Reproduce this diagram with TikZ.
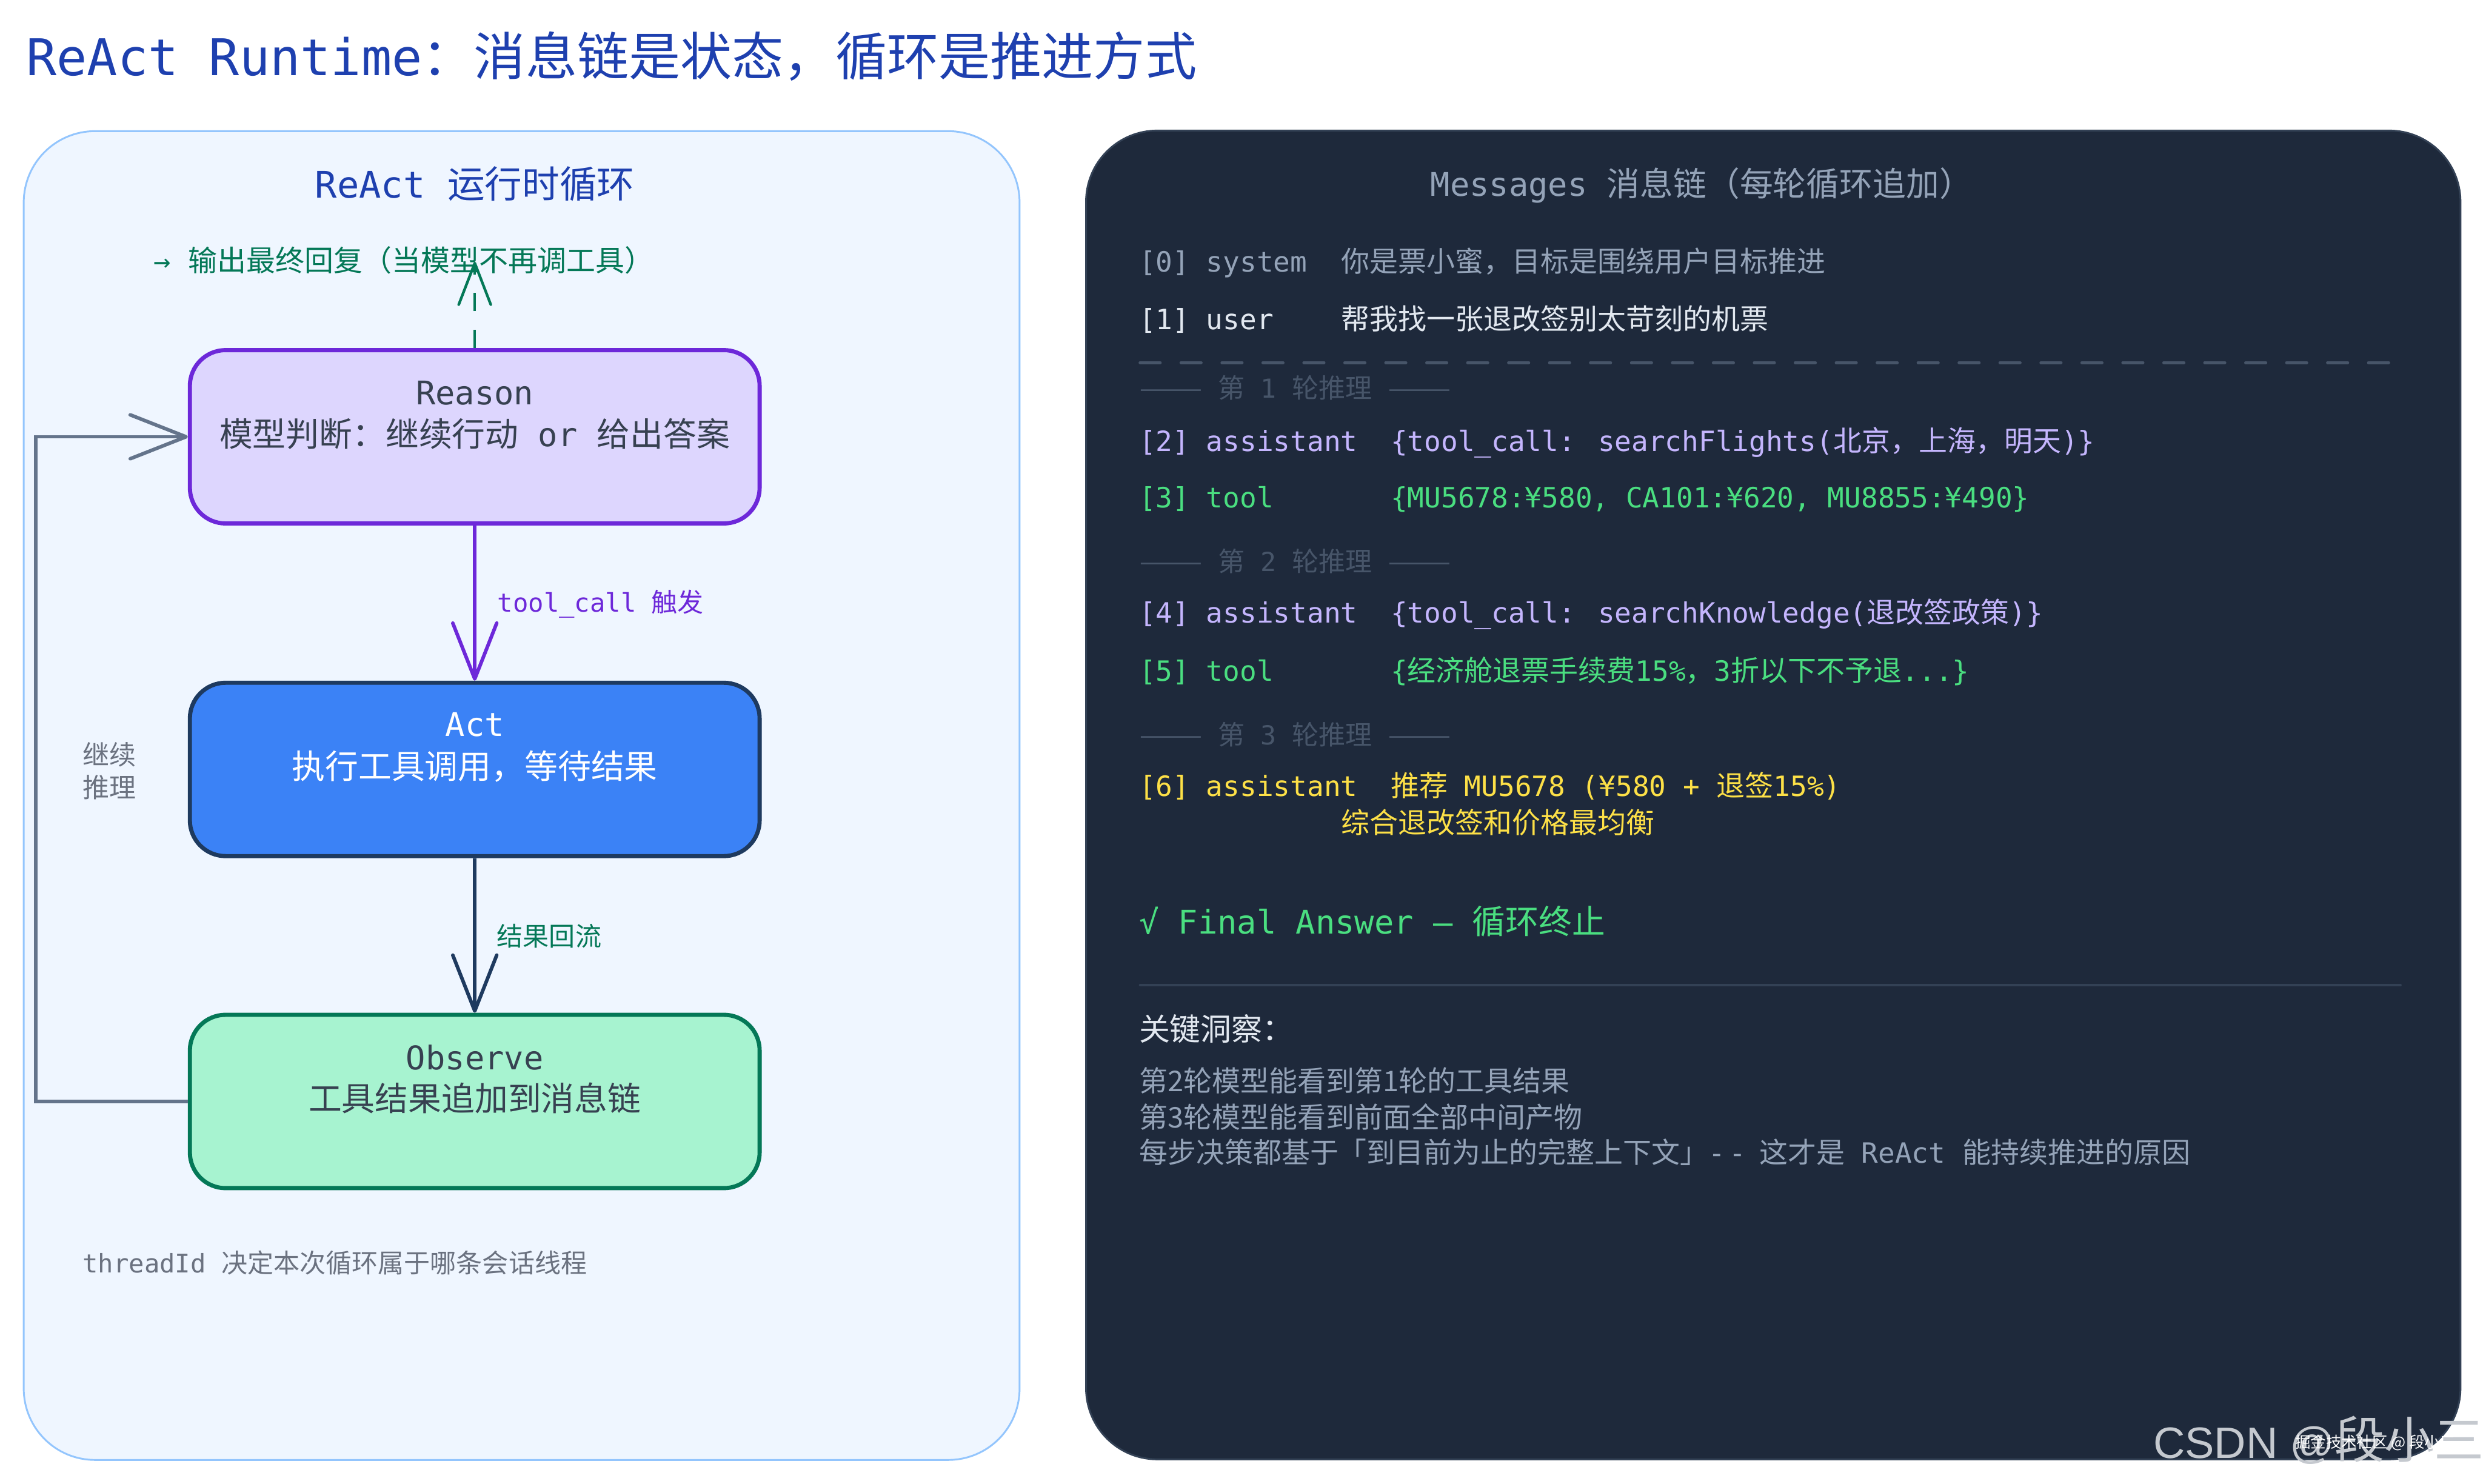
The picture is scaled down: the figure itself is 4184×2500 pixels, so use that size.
\documentclass[tikz,border=0pt]{standalone}
\usepackage{fontspec}
\usepackage{graphicx}
\setmainfont{Noto Sans CJK SC}
\newfontfamily\monof{DejaVu Sans Mono}[Scale=0.98]
\newfontfamily\wmf{Liberation Sans}
\usetikzlibrary{arrows.meta,calc}
\newcommand\fsz[1]{\fontsize{\fpeval{#1/2}}{\fpeval{#1*0.6}}\selectfont}
\newcommand\dashpair{\resizebox{53.5pt}{\height}{——}}
\definecolor{titleblue}{HTML}{1E40AF}
\definecolor{lpfill}{HTML}{EFF6FF}
\definecolor{lpdraw}{HTML}{93C5FD}
\definecolor{rpfill}{HTML}{1E293B}
\definecolor{rpdraw}{HTML}{334155}
\definecolor{vfill}{HTML}{DDD6FE}
\definecolor{vdraw}{HTML}{6D28D9}
\definecolor{afill}{HTML}{3B82F6}
\definecolor{adraw}{HTML}{1E3A5F}
\definecolor{ofill}{HTML}{A7F3D0}
\definecolor{odraw}{HTML}{047857}
\definecolor{gtext}{HTML}{047857}
\definecolor{boxtext}{HTML}{374151}
\definecolor{loopc}{HTML}{64748B}
\definecolor{mutedtext}{HTML}{6B7280}
\definecolor{slatefour}{HTML}{94A3B8}
\definecolor{slatesix}{HTML}{475569}
\definecolor{brighttext}{HTML}{E2E8F0}
\definecolor{lav}{HTML}{C4B5FD}
\definecolor{grn}{HTML}{4ADE80}
\definecolor{yel}{HTML}{FDE047}
\definecolor{wmgray}{HTML}{C5C9CF}
\tikzset{
  txt/.style={inner sep=0pt, anchor=base west},
  ctxt/.style={inner sep=0pt, anchor=base},
  box/.style={draw, line width=3.5pt, rounded corners=30pt, minimum width=480pt, minimum height=146pt, inner sep=0pt},
  flow/.style={line width=3pt, -{Straight Barb[length=47pt,width=37pt,round]}},
  finalflow/.style={draw=gtext, line width=2.25pt, dash pattern=on 15.5pt off 15.5pt, -{Straight Barb[length=35pt,width=27pt,round]}},
}
\begin{document}
\begin{tikzpicture}[x=0.5pt,y=-0.5pt]
\path[use as bounding box, fill=white] (0,0) rectangle (4184,2500);
% title
\node[txt,text=titleblue] (title) at (44,127) {\fsz{87}{\monof ReAct Runtime}：消息链是状态，循环是推进方式};
% panels
\draw[fill=lpfill, draw=lpdraw, line width=1.5pt, rounded corners=60pt] (40,221) rectangle (1718,2460);
\draw[fill=rpfill, draw=rpdraw, line width=1.5pt, rounded corners=60pt] (1830,220) rectangle (4146,2459);
% left panel
\node[ctxt,text=titleblue] (ltitle) at (800,334) {\fsz{63}{\monof ReAct }运行时循环};
\node[txt,text=gtext] (finalout) at (259,457) {\fsz{49}{\monof → }输出最终回复（当模型不再调工具）};
\coordinate (finaltip) at (800,441);

\node[box, fill=vfill, draw=vdraw] (reason) at (800,736) {};
\node[ctxt,text=boxtext] (reasonA) at (800,682) {\fsz{56}\monof Reason};
\node[ctxt,text=boxtext] (reasonB) at (800,752) {\fsz{56}模型判断：继续行动{\monof\ or\ }给出答案};

\node[box, fill=afill, draw=adraw] (act) at (800,1296.5) {};
\node[ctxt,text=white] (actA) at (800,1241) {\fsz{56}\monof Act};
\node[ctxt,text=white] (actB) at (800,1312) {\fsz{56}执行工具调用，等待结果};

\node[box, fill=ofill, draw=odraw] (observe) at (800,1856) {};
\node[ctxt,text=boxtext] (obsA) at (800,1802) {\fsz{56}\monof Observe};
\node[ctxt,text=boxtext] (obsB) at (800,1872) {\fsz{56}工具结果追加到消息链};

\draw[finalflow] (reason.north) -- (finaltip);
\draw[flow, draw=vdraw] (reason.south) -- (act.north);
\draw[flow, draw=adraw] (act.south) -- (observe.north);
\coordinate (loopL) at (60,1856);
\draw[flow, draw=loopc] (observe.west) -- (loopL) |- (reason.west);

\node[txt,text=vdraw] (lbltool) at (838,1031) {\fsz{44}{\monof tool\_call }触发};
\node[txt,text=gtext] (lblback) at (837,1594) {\fsz{44}结果回流};
\node[txt,text=mutedtext] (contA) at (139,1289) {\fsz{45}继续};
\node[txt,text=mutedtext] (contB) at (139,1344) {\fsz{45}推理};
\node[txt,text=mutedtext] (thread) at (139,2145) {\fsz{44}{\monof threadId }决定本次循环属于哪条会话线程};

% right panel
\node[txt,text=slatefour] (rtitle) at (2410,330) {\fsz{56}{\monof Messages }消息链（每轮循环追加）};
\node[txt,text=slatefour] (r0a) at (1919,458) {\fsz{48}\monof [0] system};
\node[txt,text=slatefour] (r0b) at (2260,458) {\fsz{48}你是票小蜜，目标是围绕用户目标推进};
\node[txt,text=brighttext] (r1a) at (1919,555) {\fsz{48}\monof [1] user};
\node[txt,text=brighttext] (r1b) at (2260,555) {\fsz{48}帮我找一张退改签别太苛刻的机票};
\draw[slatesix, line width=2.5pt, line cap=round, dash pattern=on 17pt off 17.5pt] (1921,611) -- (4045,611);

\node[txt,text=slatesix] (h1) at (1919,671) {\fsz{45}\dashpair{\monof\ }第{\monof\ 1\ }轮推理{\monof\ }\dashpair};
\node[txt,text=lav] (r2a) at (1919,760) {\fsz{48}\monof [2] assistant};
\node[txt,text=lav] (r2b) at (2343,760) {\fsz{48}{\monof \{tool\_call: searchFlights(}北京，上海，明天{\monof )\}}};
\node[txt,text=grn] (r3a) at (1919,855) {\fsz{48}\monof [3] tool};
\node[txt,text=grn] (r3b) at (2343,855) {\fsz{48}\monof \{MU5678:¥580, CA101:¥620, MU8855:¥490\}};

\node[txt,text=slatesix] (h2) at (1919,963) {\fsz{45}\dashpair{\monof\ }第{\monof\ 2\ }轮推理{\monof\ }\dashpair};
\node[txt,text=lav] (r4a) at (1919,1050) {\fsz{48}\monof [4] assistant};
\node[txt,text=lav] (r4b) at (2343,1050) {\fsz{48}{\monof \{tool\_call: searchKnowledge(}退改签政策{\monof )\}}};
\node[txt,text=grn] (r5a) at (1919,1148) {\fsz{48}\monof [5] tool};
\node[txt,text=grn] (r5b) at (2343,1148) {\fsz{48}{\monof \{}经济舱退票手续费{\monof 15\%}，{\monof 3}折以下不予退{\monof ...\}}};

\node[txt,text=slatesix] (h3) at (1919,1255) {\fsz{45}\dashpair{\monof\ }第{\monof\ 3\ }轮推理{\monof\ }\dashpair};
\node[txt,text=yel] (r6a) at (1919,1342) {\fsz{48}\monof [6] assistant};
\node[txt,text=yel] (r6b) at (2343,1342) {\fsz{48}推荐{\monof\ MU5678 (¥580 + }退签{\monof 15\%)}};
\node[txt,text=yel] (r6c) at (2260,1404) {\fsz{48}综合退改签和价格最均衡};

\node[txt,text=grn] (fin) at (1919,1574) {\fsz{56}{\monof √ Final Answer — }循环终止};
\draw[rpdraw, line width=2pt, line cap=round] (1921,1660) -- (4045,1660);
\node[txt,text=brighttext] (key) at (1919,1753) {\fsz{52}关键洞察：};
\node[txt,text=slatefour] (ins1) at (1919,1839) {\fsz{48}第2轮模型能看到第1轮的工具结果};
\node[txt,text=slatefour] (ins2) at (1919,1900) {\fsz{48}第3轮模型能看到前面全部中间产物};
\node[txt,text=slatefour] (ins3) at (1919,1960) {\fsz{48}每步决策都基于「到目前为止的完整上下文」{\monof -\kern3pt-\kern-3pt\ }这才是{\monof\ ReAct\ }能持续推进的原因};

% watermarks
\node[txt,text=wmgray] (wmA) at (3628,2457) {{\wmf\fsz{74}CSDN @}{\fsz{84}段小三}};
\node[txt,text=white] (wmB) at (3867,2440) {\fsz{26}掘金技术社区 @ 段小三};
\end{tikzpicture}
\end{document}
